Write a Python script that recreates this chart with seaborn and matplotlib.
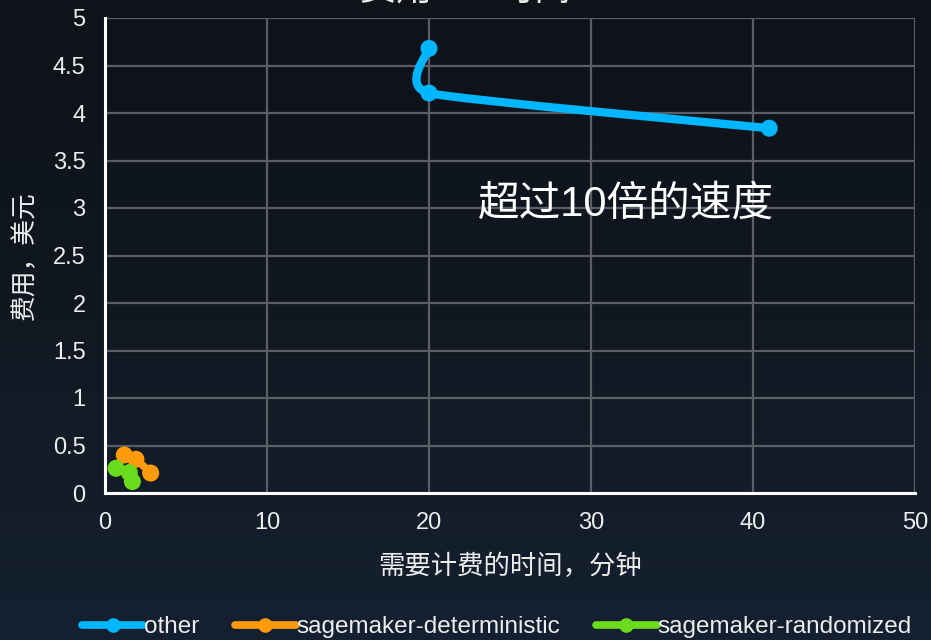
import numpy as np
import pandas as pd
import matplotlib
matplotlib.use("Agg")
import matplotlib.pyplot as plt
import seaborn as sns
from matplotlib.path import Path
from matplotlib.patches import PathPatch
from matplotlib.lines import Line2D
from matplotlib.transforms import IdentityTransform
from matplotlib.colors import LinearSegmentedColormap

# ---- data ----
series_names = ["other", "sagemaker-deterministic", "sagemaker-randomized"]
other_x = [20.0, 20.0, 41.0]
other_y = [4.68, 4.21, 3.84]
det_x = [1.19, 1.91, 2.82]
det_y = [0.40, 0.355, 0.21]
rand_x = [0.68, 1.50, 1.69]
rand_y = [0.26, 0.215, 0.12]
x_ticks = [0, 10, 20, 30, 40, 50]
y_ticks = [0, 0.5, 1, 1.5, 2, 2.5, 3, 3.5, 4, 4.5, 5]
title_text = "费用 vs. 时间"
x_label = "需要计费的时间，分钟"
y_label = "费用，美元"
annotation = "超过10倍的速度"
colors = ["#00B7FF", "#FF9A0B", "#6BDB1E"]

df = pd.concat([
    pd.DataFrame({"x": other_x, "y": other_y, "series": series_names[0]}),
    pd.DataFrame({"x": det_x, "y": det_y, "series": series_names[1]}),
    pd.DataFrame({"x": rand_x, "y": rand_y, "series": series_names[2]}),
], ignore_index=True)

sns.set_theme(style="dark")
plt.rcParams["font.family"] = ["Liberation Sans", "Noto Sans CJK SC", "DejaVu Sans"]
TXT = "#EDEDED"

fig = plt.figure(figsize=(9.31, 6.4), dpi=100)
# gradient background
bg = fig.add_axes([0, 0, 1, 1], zorder=-10)
grad = np.linspace(0, 1, 256).reshape(-1, 1)
cmap = LinearSegmentedColormap.from_list("bg", ["#0e1219", "#111822", "#152131"])
bg.imshow(grad, aspect="auto", cmap=cmap, extent=[0, 1, 0, 1], origin="upper")
bg.set_axis_off()

ax = fig.add_axes([105/931, 1-493/640, 810/931, 475/640])
ax.set_facecolor("none")
ax.set_xlim(0, 50)
ax.set_ylim(0, 5)
ax.set_xticks(x_ticks)
ax.set_yticks(y_ticks)
ax.set_xticklabels([f"{v:g}" for v in x_ticks])
ax.set_yticklabels([f"{v:g}" for v in y_ticks])
ax.grid(True, color="#5a5e66", lw=1.6)
ax.set_axisbelow(True)
for s in ["top", "right"]:
    ax.spines[s].set_visible(False)
for s in ["left", "bottom"]:
    ax.spines[s].set_color("white")
    ax.spines[s].set_linewidth(2.2)
    ax.spines[s].set_zorder(5)
ax.tick_params(axis="both", length=0, labelsize=17, colors=TXT, pad=14)

fig.canvas.draw()

def smooth_path(xs, ys, f=1/12):
    pts = ax.transData.transform(np.column_stack([xs, ys]))
    n = len(pts)
    verts = [pts[0]]
    codes = [Path.MOVETO]
    for i in range(n - 1):
        p0 = pts[i - 1] if i > 0 else pts[i]
        p1 = pts[i]
        p2 = pts[i + 1]
        p3 = pts[i + 2] if i + 2 < n else pts[i + 1]
        c1 = p1 + (p2 - p0) * f
        c2 = p2 - (p3 - p1) * f
        verts += [c1, c2, p2]
        codes += [Path.CURVE4] * 3
    return Path(verts, codes)

for name, col, lw in zip(series_names, colors, [6, 5.5, 5.5]):
    sub = df[df["series"] == name]
    patch = PathPatch(smooth_path(sub["x"].values, sub["y"].values),
                      transform=IdentityTransform(), fill=False,
                      edgecolor=col, lw=lw, capstyle="round", joinstyle="round",
                      zorder=3)
    ax.add_patch(patch)

sns.scatterplot(data=df, x="x", y="y", hue="series", palette=colors,
                s=150, edgecolor="none", legend=False, ax=ax, zorder=4)

ax.set_xlabel(x_label, fontsize=19, color=TXT)
ax.set_ylabel(y_label, fontsize=18.5, color=TXT)
ax.xaxis.set_label_coords(0.5, -0.127)
ax.yaxis.set_label_coords(-0.084, 0.5)

ax.text(0.643, 0.607, annotation, transform=ax.transAxes, fontsize=30,
        color="white", ha="center", va="center")

fig.text(0.5, 1.016, title_text, fontsize=26, color=TXT, ha="center", va="center")

handles = [Line2D([0], [0], color=c, lw=5.5, marker="o", markersize=9.5) for c in colors]
leg = fig.legend(handles, series_names, loc="center", bbox_to_anchor=(0.534, 0.02),
                 ncol=3, frameon=False, fontsize=17.5, handlelength=2.5,
                 handletextpad=0.05, columnspacing=1.45, labelcolor=TXT)

fig.savefig("out.png", dpi=100)
